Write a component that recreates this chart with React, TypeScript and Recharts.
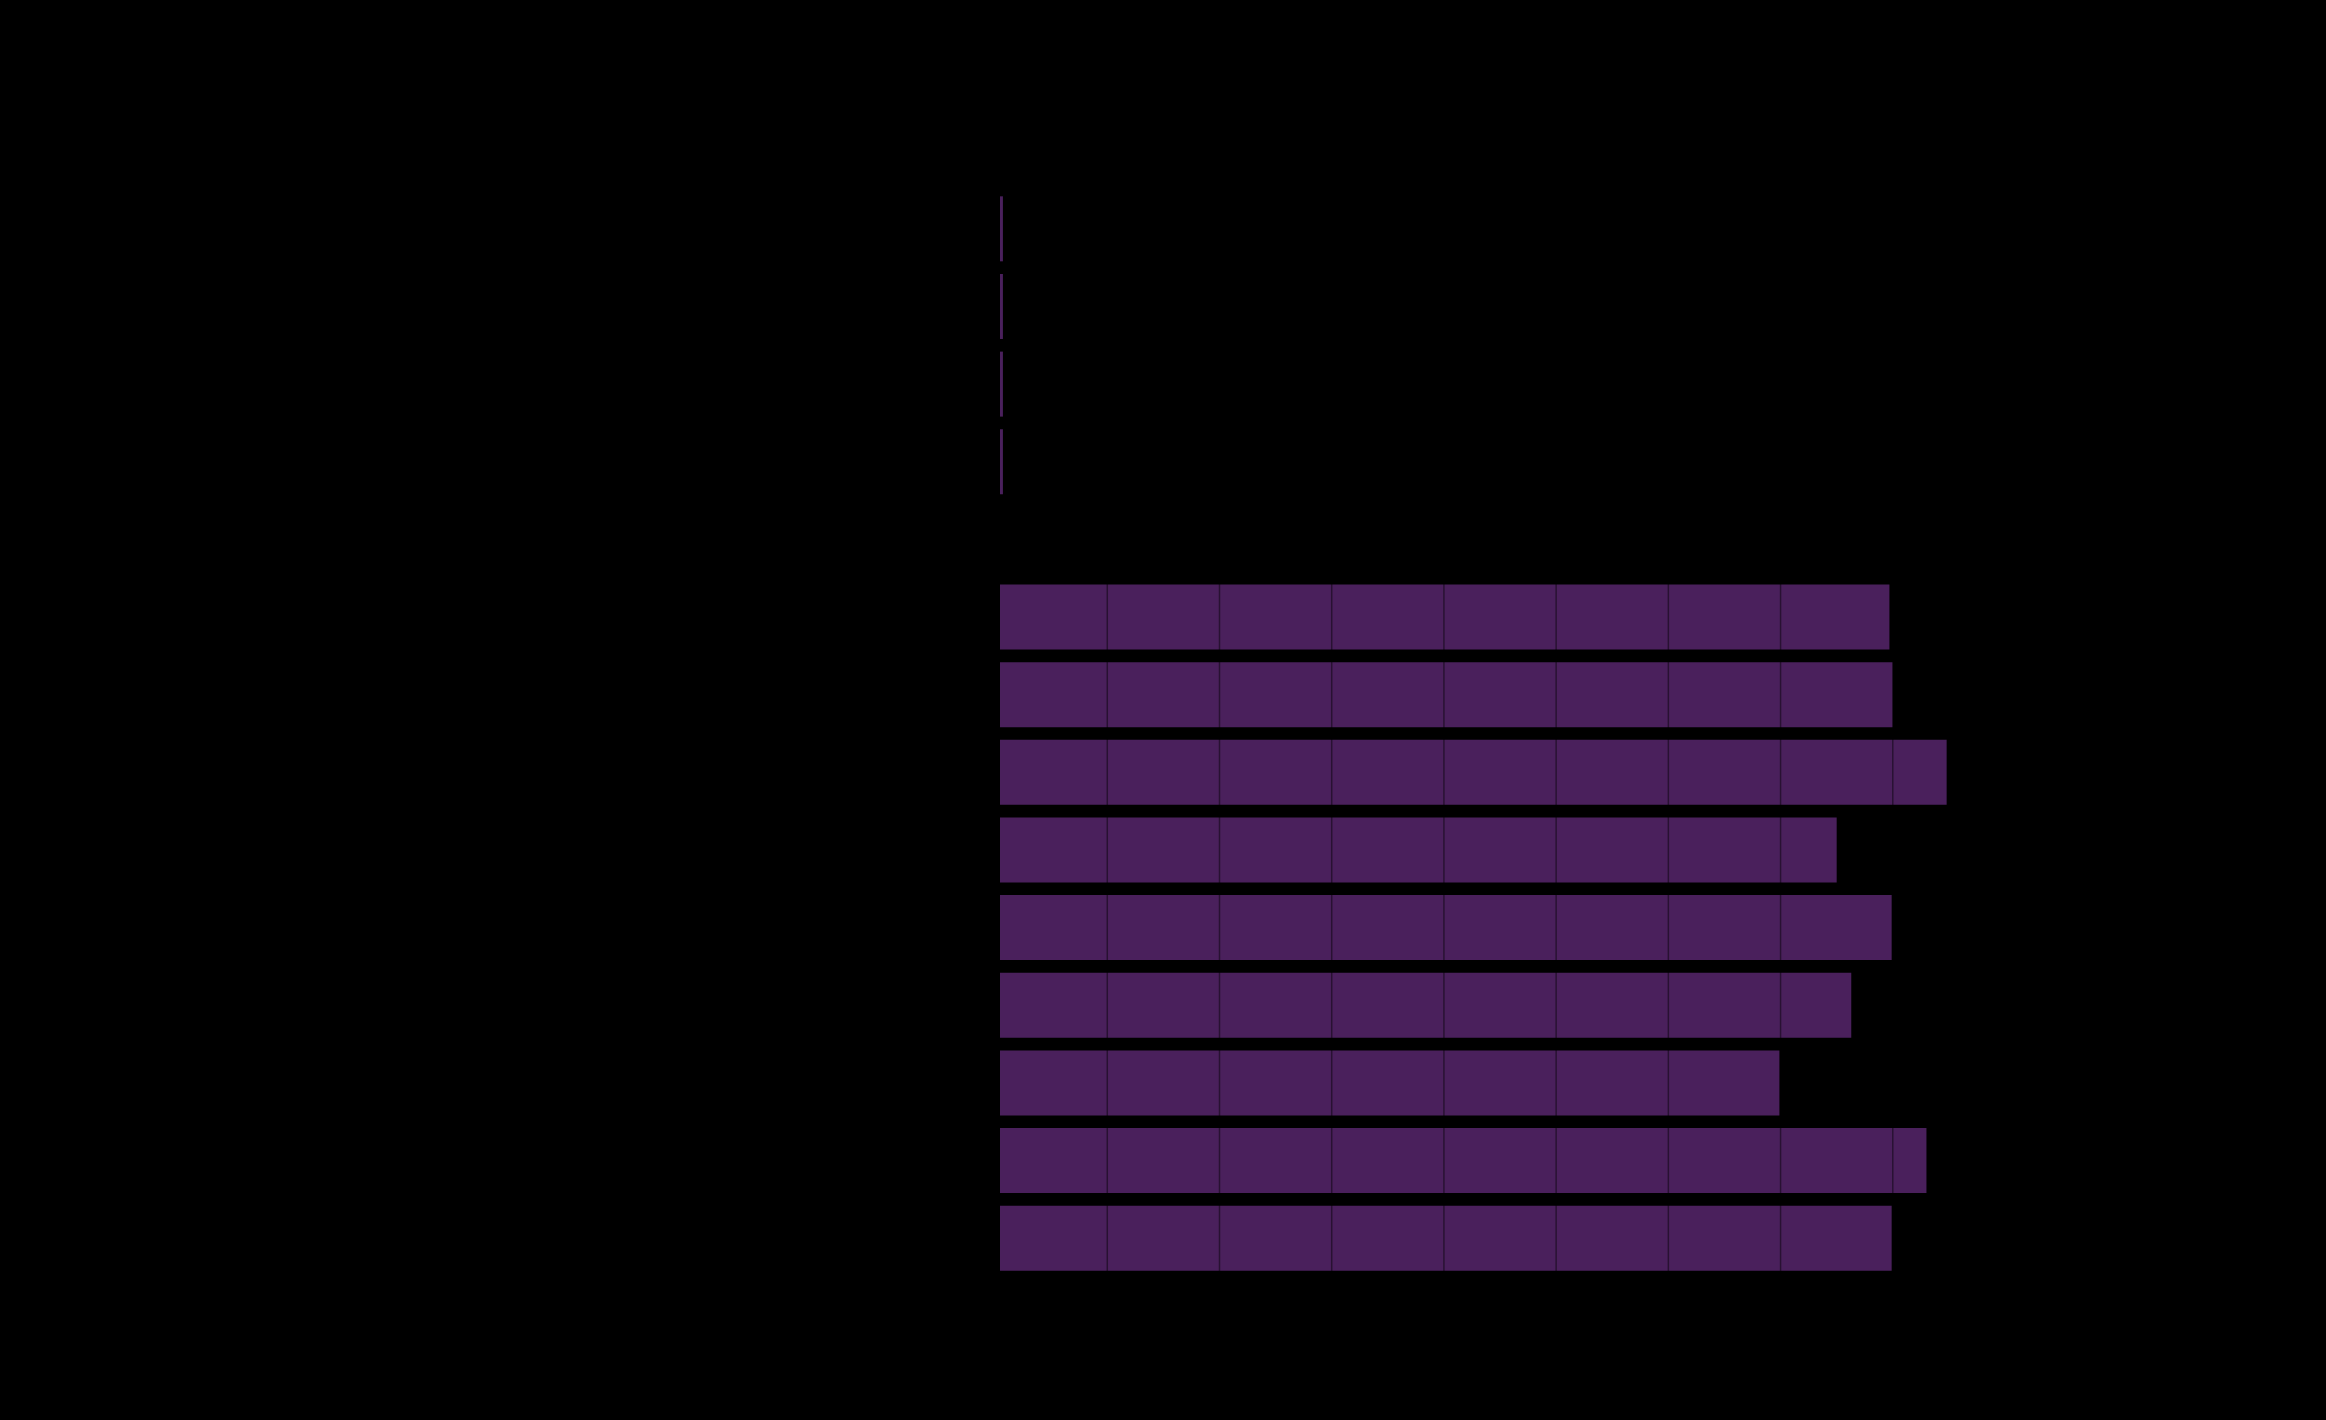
import React from 'react';
import { BarChart, Bar, XAxis, YAxis, ReferenceLine } from 'recharts';

// labels are not readable in the reference (dark text on dark ground), so generic names
const categories = ['A', 'B', 'C', 'D', 'E', 'F', 'G', 'H', 'I', 'J', 'K', 'L', 'M', 'N'];
const values = [0.7, 0.7, 0.7, 0.7, 0, 79.7, 80.0, 84.8, 75.0, 79.9, 76.3, 69.9, 83.0, 79.9];
const xTicks = [10, 20, 30, 40, 50, 60, 70, 80, 90];

const data = categories.map((name, i) => ({ name, value: values[i] }));

export default function App() {
  return (
    <div style={{ position: 'absolute', left: 0, top: 0, width: 2326, height: 1420, background: '#000' }}>
      <BarChart
        width={2326}
        height={1420}
        data={data}
        layout="vertical"
        margin={{ top: 190, right: 321, left: 1000, bottom: 143 }}
        barCategoryGap="8.15%"
      >
        <XAxis type="number" domain={[0.44, 90]} ticks={xTicks} allowDataOverflow hide />
        <YAxis type="category" dataKey="name" hide />
        <Bar dataKey="value" fill="#4a205c" isAnimationActive={false} />
        {xTicks.map((t) => (
          <ReferenceLine key={t} x={t} stroke="#000" strokeOpacity={0.45} strokeWidth={1.5} />
        ))}
      </BarChart>
    </div>
  );
}
